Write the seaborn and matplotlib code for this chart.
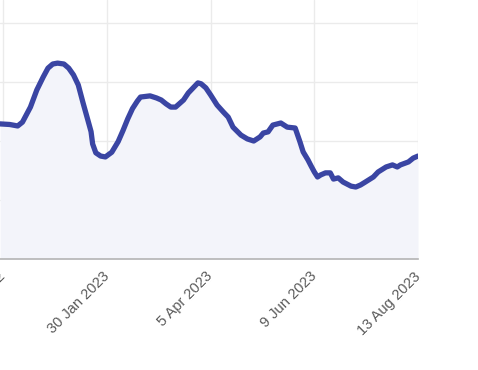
import matplotlib
matplotlib.use("Agg")
import matplotlib.pyplot as plt
import seaborn as sns
import pandas as pd

dates = [
    "2022-11-24", "2022-11-30", "2022-12-05", "2022-12-08", "2022-12-13", "2022-12-17",
    "2022-12-21", "2022-12-24", "2022-12-27", "2022-12-30", "2023-01-03", "2023-01-06",
    "2023-01-09", "2023-01-12", "2023-01-15", "2023-01-18", "2023-01-20", "2023-01-21",
    "2023-01-23", "2023-01-26", "2023-01-29", "2023-02-02", "2023-02-06", "2023-02-09",
    "2023-02-12", "2023-02-15", "2023-02-18", "2023-02-20", "2023-02-26", "2023-03-02",
    "2023-03-05", "2023-03-08", "2023-03-11", "2023-03-14", "2023-03-19", "2023-03-22",
    "2023-03-25", "2023-03-28", "2023-03-30", "2023-04-02", "2023-04-05",
    "2023-04-09", "2023-04-13", "2023-04-16", "2023-04-19", "2023-04-24", "2023-04-28",
    "2023-05-02", "2023-05-06", "2023-05-08", "2023-05-11", "2023-05-14", "2023-05-19",
    "2023-05-23", "2023-05-28", "2023-05-31", "2023-06-02", "2023-06-05", "2023-06-07",
    "2023-06-09", "2023-06-11", "2023-06-13", "2023-06-16", "2023-06-19", "2023-06-21",
    "2023-06-24", "2023-06-27", "2023-07-02", "2023-07-05", "2023-07-08", "2023-07-11",
    "2023-07-16", "2023-07-19", "2023-07-24", "2023-07-28", "2023-07-31", "2023-08-02",
    "2023-08-07", "2023-08-10", "2023-08-13",
]
values = [
    45.8, 45.6, 45.1, 46.4, 51.5, 57.3,
    61.7, 64.7, 66.1, 66.4, 66.1, 64.7,
    62.4, 59.0, 52.9, 47.1, 43.2, 39.0,
    36.0, 34.9, 34.6, 36.2, 39.8, 43.5,
    47.5, 51.0, 53.5, 54.9, 55.3, 54.6,
    53.9, 52.6, 51.5, 51.5, 53.9, 56.3,
    58.0, 59.7, 59.4, 58.0, 55.6,
    52.2, 49.8, 48.1, 44.7, 42.0, 40.7,
    40.0, 41.4, 42.7, 43.1, 45.4, 46.1,
    44.7, 44.4, 39.7, 36.3, 33.6, 31.5,
    29.5, 27.8, 28.5, 29.2, 29.2, 27.1,
    27.5, 26.1, 24.7, 24.4, 25.1, 26.1,
    27.8, 29.5, 31.2, 31.9, 31.2, 31.9,
    32.9, 34.2, 34.9,
]
tick_dates = ["2022-11-26", "2023-01-30", "2023-04-05", "2023-06-09", "2023-08-13"]
tick_labels = ["26 Nov 2022", "30 Jan 2023", "5 Apr 2023", "9 Jun 2023", "13 Aug 2023"]
y_ticks = [0, 20, 40, 60, 80]

df = pd.DataFrame({"date": pd.to_datetime(dates), "value": values})

sns.set_theme(style="white")
plt.rcParams["font.family"] = ["Liberation Sans", "DejaVu Sans"]

line_color = "#3A45A3"
fill_color = "#F3F4FA"
grid_color = "#EBEBEB"

fig = plt.figure(figsize=(4.78, 3.70), dpi=100)
ax = fig.add_axes([0.0, 0.30, 418 / 478, 0.70])

ax.fill_between(df["date"], df["value"], 0, color=fill_color, zorder=1, linewidth=0)
sns.lineplot(data=df, x="date", y="value", ax=ax, color=line_color, linewidth=3.8,
             solid_capstyle="round", solid_joinstyle="round", zorder=3)

ax.set_xlim(pd.Timestamp("2022-11-23 22:00"), pd.Timestamp("2023-08-13"))
ax.set_ylim(0, 87.8)

ax.set_xticks(pd.to_datetime(tick_dates))
ax.set_xticklabels(tick_labels, rotation=45, ha="right", rotation_mode="anchor",
                   va="center", color="#5A5A5A", fontsize=10.5)
ax.set_yticks(y_ticks)
ax.set_yticklabels([])
ax.tick_params(axis="x", length=5, color=grid_color, pad=6)
ax.tick_params(axis="y", length=0)

ax.grid(True, color=grid_color, linewidth=1, zorder=0)
ax.set_axisbelow(True)
for s in ["left", "top", "right"]:
    ax.spines[s].set_visible(False)
ax.spines["bottom"].set_color("#B4B4B4")
ax.spines["bottom"].set_linewidth(1.2)
ax.set_xlabel("")
ax.set_ylabel("")

fig.savefig("out.png", dpi=100)
